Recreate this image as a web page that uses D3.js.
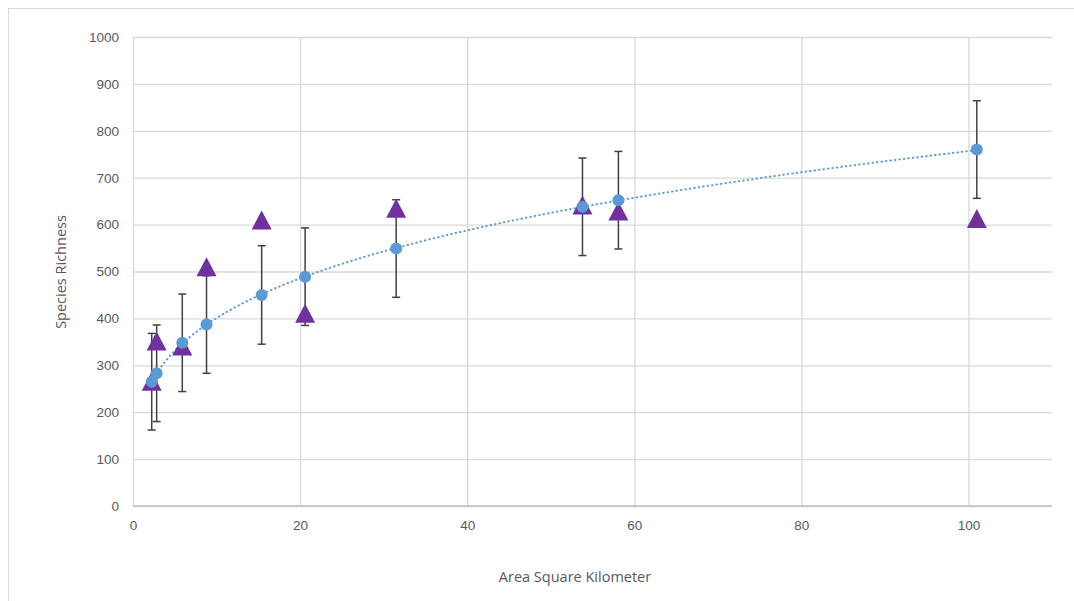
<!DOCTYPE html>
<html>
<head>
<meta charset="utf-8">
<script src="https://cdn.jsdelivr.net/npm/d3@7"></script>
<style>
  body { margin: 0; background: #fff; }
  svg { display: block; font-family: "Open Sans", sans-serif; }
</style>
</head>
<body>
<svg id="chart"></svg>
<script>
// area of each site (km²)
const areaKm = [2.24, 2.83, 5.9, 8.8, 15.4, 20.6, 31.5, 53.8, 58.1, 101.0];
// predicted richness (blue circles) and their error bar half-widths
const predicted = [265, 283, 348, 387, 450, 489, 549, 638, 652, 760];
const errAmount = [103, 103, 104, 104, 105, 104, 104, 104, 104, 104];
// observed richness (purple triangles)
const observed = [266, 352, 341, 510, 610, 411, 635, 642, 629, 613];

const xTicks = [0, 20, 40, 60, 80, 100];
const yTicks = [0, 100, 200, 300, 400, 500, 600, 700, 800, 900, 1000];

const width = 1074;
const height = 601;
const margin = { left: 133, right: 22, top: 37, bottom: 95 };

const svg = d3.select("#chart").attr("width", width).attr("height", height);

// chart frame
svg.append("rect")
  .attr("x", 8.5).attr("y", 8.5)
  .attr("width", width + 20).attr("height", height + 20)
  .attr("fill", "none").attr("stroke", "#d9d9d9");

const xScale = d3.scaleLinear()
  .domain([0, 110])
  .range([margin.left, width - margin.right]);

const yScale = d3.scaleLinear()
  .domain([0, 1000])
  .range([height - margin.bottom, margin.top]);

// gridlines + tick labels
const xAxis = d3.axisBottom(xScale).tickValues(xTicks).tickFormat(d3.format("d"))
  .tickSize(-(yScale(0) - yScale(1000))).tickPadding(14);
const gx = svg.append("g")
  .attr("transform", "translate(0," + yScale(0) + ")")
  .call(xAxis);
gx.select(".domain").remove();
gx.selectAll("line").attr("stroke", "#d9d9d9").attr("stroke-width", 1.3);
gx.selectAll("text").attr("fill", "#595959").style("font-size", "13.5px");

const yAxis = d3.axisLeft(yScale).tickValues(yTicks).tickFormat(d3.format("d"))
  .tickSize(-(xScale(110) - xScale(0))).tickPadding(14);
const gy = svg.append("g")
  .attr("transform", "translate(" + xScale(0) + ",0)")
  .call(yAxis);
gy.select(".domain").remove();
gy.selectAll("line").attr("stroke", "#d9d9d9").attr("stroke-width", 1.3);
gy.selectAll("text").attr("fill", "#595959").style("font-size", "13.5px");

// baseline
svg.append("line")
  .attr("x1", xScale(0)).attr("x2", xScale(110))
  .attr("y1", yScale(0)).attr("y2", yScale(0))
  .attr("stroke", "#bfbfbf").attr("stroke-width", 1.3);

const pts = areaKm.map((a, i) => ({ x: a, pred: predicted[i], err: errAmount[i], obs: observed[i] }));

// error bars
const eb = svg.append("g").attr("stroke", "#404040").attr("stroke-width", 1.5);
pts.forEach((d) => {
  const cx = xScale(d.x);
  eb.append("line").attr("x1", cx).attr("x2", cx)
    .attr("y1", yScale(d.pred - d.err)).attr("y2", yScale(d.pred + d.err));
  [d.pred - d.err, d.pred + d.err].forEach((v) => {
    eb.append("line").attr("x1", cx - 4).attr("x2", cx + 4)
      .attr("y1", yScale(v)).attr("y2", yScale(v));
  });
});

// power trendline fitted to the predicted series (log-log least squares)
const lx = areaKm.map(Math.log), ly = predicted.map(Math.log);
const mx = d3.mean(lx), my = d3.mean(ly);
const k = d3.sum(lx, (v, i) => (v - mx) * (ly[i] - my)) / d3.sum(lx, (v) => (v - mx) * (v - mx));
const c = Math.exp(my - k * mx);
const xMin = d3.min(areaKm), xMax = d3.max(areaKm);
const trendX = d3.range(0, 101).map((i) => xMin + (xMax - xMin) * i / 100);
svg.append("path")
  .datum(trendX)
  .attr("fill", "none")
  .attr("stroke", "#5b9bd5")
  .attr("stroke-width", 2)
  .attr("stroke-linecap", "round")
  .attr("stroke-dasharray", "0.5,4")
  .attr("d", d3.line().x((v) => xScale(v)).y((v) => yScale(c * Math.pow(v, k))));

// observed triangles
const tw = 20, th = 19;
svg.append("g").selectAll("path")
  .data(pts).enter().append("path")
  .attr("transform", (d) => "translate(" + xScale(d.x) + "," + yScale(d.obs) + ")")
  .attr("d", "M0," + (-th / 2) + "L" + (tw / 2) + "," + (th / 2) + "L" + (-tw / 2) + "," + (th / 2) + "Z")
  .attr("fill", "#7030a0");

// predicted circles
svg.append("g").selectAll("circle")
  .data(pts).enter().append("circle")
  .attr("cx", (d) => xScale(d.x))
  .attr("cy", (d) => yScale(d.pred))
  .attr("r", 6)
  .attr("fill", "#5b9bd5");

// axis titles
svg.append("text")
  .attr("x", 575).attr("y", 582)
  .attr("text-anchor", "middle")
  .attr("fill", "#595959").style("font-size", "14.5px")
  .text("Area Square Kilometer");

svg.append("text")
  .attr("transform", "translate(66,272) rotate(-90)")
  .attr("text-anchor", "middle")
  .attr("fill", "#595959").style("font-size", "14.5px")
  .text("Species Richness");
</script>
</body>
</html>
